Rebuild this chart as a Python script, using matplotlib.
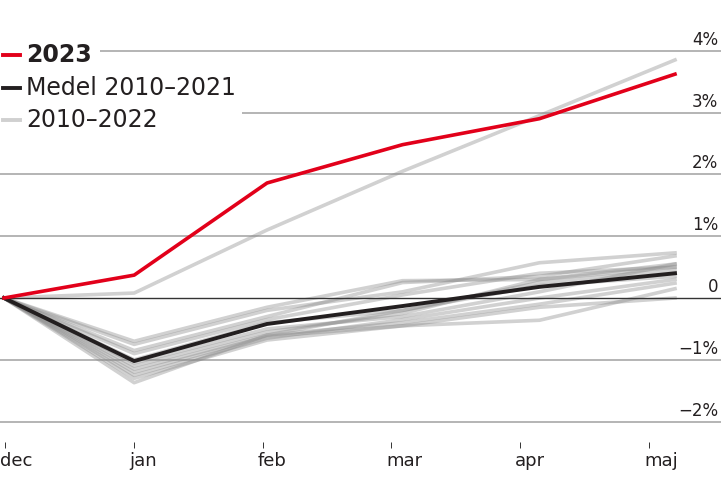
import matplotlib
matplotlib.use("Agg")
import matplotlib.pyplot as plt
import matplotlib.transforms as mtransforms
from matplotlib.lines import Line2D
from matplotlib.patches import Rectangle
import numpy as np

plt.rcParams['font.family'] = ['DejaVu Sans']

months = ['dec', 'jan', 'feb', 'mar', 'apr', 'maj']

y2023 = [0, 0.37, 1.86, 2.48, 2.90, 3.62]
y2022 = [0, 0.08, 1.10, 2.05, 2.95, 3.85]
mean_2010_2021 = [0, -1.02, -0.42, -0.13, 0.18, 0.40]

# 2010-2021, one list per year
years_2010_2021 = [
    [0, -0.70, -0.15, 0.28, 0.30, 0.55],
    [0, -0.75, -0.20, 0.10, 0.57, 0.73],
    [0, -0.85, -0.30, 0.25, 0.35, 0.68],
    [0, -0.90, -0.35, 0.05, 0.40, 0.50],
    [0, -1.00, -0.40, -0.20, 0.25, 0.45],
    [0, -1.05, -0.50, -0.30, 0.10, 0.55],
    [0, -1.10, -0.55, -0.25, 0.30, 0.50],
    [0, -1.15, -0.60, -0.40, -0.10, 0.24],
    [0, -1.20, -0.62, -0.45, -0.36, 0.15],
    [0, -1.25, -0.65, -0.35, 0.00, 0.30],
    [0, -1.30, -0.68, -0.45, -0.15, 0.00],
    [0, -1.37, -0.60, -0.20, 0.20, 0.35],
]

grid_values = [-2, -1, 0, 1, 2, 3, 4]
grid_labels = ['\u22122%', '\u22121%', '0', '1%', '2%', '3%', '4%']

RED = '#e2001a'
DARK = '#231f20'
TEXT = '#231f20'

W, H = 721, 499
fig = plt.figure(figsize=(W / 100, H / 100), dpi=100)
ax = fig.add_axes([0, (H - 448) / H, 1, (448 - 20) / H])

# horizontal placement of points and ticks (in month units)
x = [0, 0.97, 1.96, 2.97, 3.99, 5.0]
tick_x = [0.007, 0.969, 1.93, 2.884, 3.845, 4.806]
px_per_month = 134.2
ax.set_xlim(-4 / px_per_month, (W - 4) / px_per_month)
ax.set_ylim((298 - 448) / 61.83, (298 - 20) / 61.83)

for v in grid_values:
    if v == 0:
        ax.axhline(v, color='#333333', lw=1.0, zorder=3)
    else:
        ax.axhline(v, color='#a8a8a8', lw=1.2, zorder=1)

for ys in years_2010_2021:
    ax.plot(x, ys, color='#8c8c8c', alpha=0.4, lw=2.6, zorder=2)
ax.plot(x, y2022, color='#8c8c8c', alpha=0.4, lw=2.6, zorder=2)
ax.plot(x, mean_2010_2021, color=DARK, lw=2.8, zorder=4)
ax.plot(x, y2023, color=RED, lw=2.6, zorder=5)

# right-hand percent labels
lab_tr = mtransforms.offset_copy(
    mtransforms.blended_transform_factory(ax.transAxes, ax.transData),
    fig=fig, x=-3, y=2, units='dots')
for v, s in zip(grid_values, grid_labels):
    ax.text(1, v, s, transform=lab_tr, ha='right', va='bottom',
            fontsize=12, color=TEXT, zorder=6)

for s in ['top', 'right', 'left', 'bottom']:
    ax.spines[s].set_visible(False)
ax.set_yticks([])
ax.set_xticks(tick_x)
ax.set_xticklabels(months)
ax.tick_params(axis='x', direction='in', length=4.3, width=0.7,
               color='#333333', pad=3, labelsize=13, labelcolor=TEXT)
shift = mtransforms.ScaledTranslation(-5 / 100, 0, fig.dpi_scale_trans)
for lbl in ax.get_xticklabels():
    lbl.set_ha('left')
    lbl.set_transform(lbl.get_transform() + shift)
ax.patch.set_visible(False)

# legend: white boxes hide the gridlines behind the text
for x0, y0, x1, y1 in [(0, 40, 100, 68), (0, 72, 242, 118), (0, 104, 172, 136)]:
    fig.add_artist(Rectangle((x0 / W, 1 - y1 / H), (x1 - x0) / W,
                             (y1 - y0) / H, transform=fig.transFigure,
                             fc='white', ec='none', zorder=3))

legend_items = [
    ('2023', RED, 'bold', 55),
    ('Medel 2010\u20132021', DARK, 'normal', 88),
    ('2010\u20132022', '#d0d0d0', 'normal', 120),
]
for label, col, weight, ypx in legend_items:
    fig.text(26 / W, 1 - ypx / H, label, fontsize=17, fontweight=weight,
             color=TEXT, ha='left', va='center', zorder=4)
    fig.add_artist(Line2D([3 / W, 20 / W], [1 - ypx / H, 1 - ypx / H],
                          color=col, lw=2.8, transform=fig.transFigure,
                          zorder=4))

fig.savefig('out.png', dpi=100)
